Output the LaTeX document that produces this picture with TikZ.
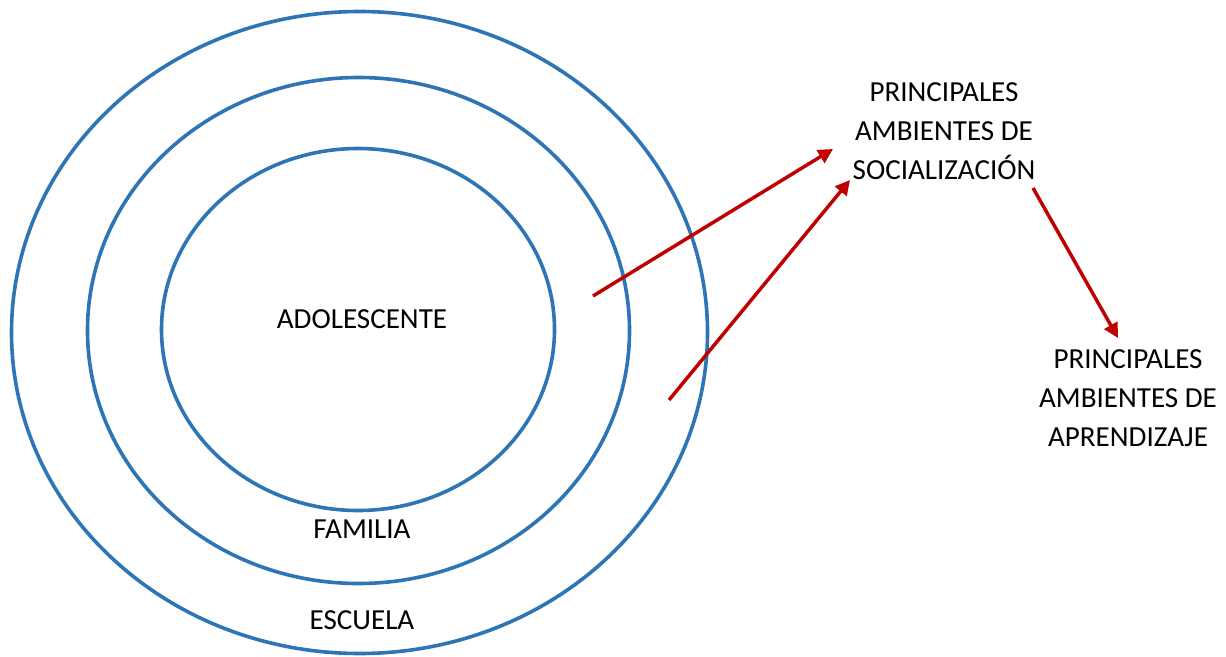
\documentclass[tikz,border=0pt]{standalone}
\usepackage{fontspec}
\setmainfont{Carlito}
\usetikzlibrary{shapes.geometric,arrows.meta}
\definecolor{ringblue}{HTML}{2E75B6}
\definecolor{arrowred}{HTML}{C00000}
\begin{document}
\begin{tikzpicture}[x=0.75pt,y=-0.75pt,
  ring/.style={draw=ringblue,line width=2.7pt,ellipse,inner sep=0pt,outer sep=0pt},
  lbl/.style={font=\fontsize{21.8pt}{29.25pt}\selectfont,inner sep=0pt,align=center,text=black},
  redarrow/.style={draw=arrowred,line width=2.6pt,-{Triangle[length=11pt,width=11pt]}}]
\useasboundingbox (0,0) rectangle (1226,656);
\node[ring,minimum width=522pt,minimum height=481.5pt] (escuela) at (359.5,332.5) {};
\node[ring,minimum width=406.5pt,minimum height=379.5pt] (familia) at (358.5,330.5) {};
\node[ring,minimum width=294.75pt,minimum height=271.5pt] (adol) at (358,329.5) {};
\node[lbl] (tadol) at (362,319) {ADOLESCENTE};
\node[lbl] (tfam) at (362,529) {FAMILIA};
\node[lbl] (tesc) at (362,620) {ESCUELA};
\node[lbl,anchor=north] (social) at (944,82) {PRINCIPALES\\AMBIENTES DE\\SOCIALIZACIÓN};
\node[lbl,anchor=north] (aprend) at (1128,349) {PRINCIPALES\\AMBIENTES DE\\APRENDIZAJE};
\coordinate (a1s) at (593,296);
\coordinate (a1e) at (833,149);
\coordinate (a2s) at (669,400);
\coordinate (a2e) at (850,180);
\coordinate (a3s) at (1033,188);
\coordinate (a3e) at (1118,338);
\draw[redarrow] (a1s) -- (a1e);
\draw[redarrow] (a2s) -- (a2e);
\draw[redarrow] (a3s) -- (a3e);
\end{tikzpicture}
\end{document}
